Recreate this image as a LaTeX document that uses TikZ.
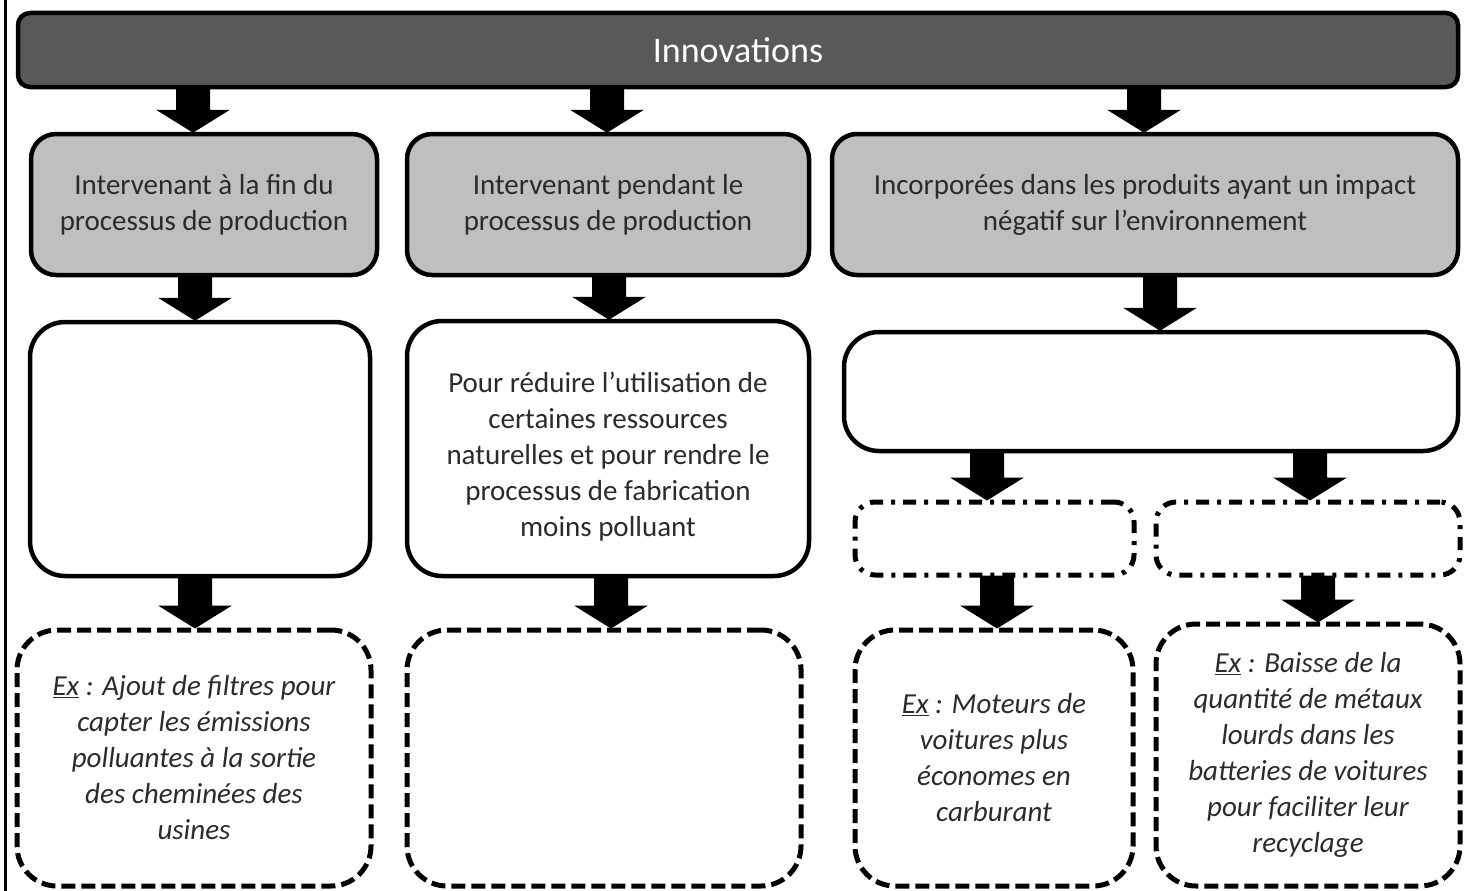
\documentclass[tikz,border=0pt]{standalone}
\usepackage{fontspec}
\setmainfont{Carlito}
\usetikzlibrary{calc}
\definecolor{bardark}{HTML}{595959}
\definecolor{boxgray}{HTML}{BFBFBF}
\definecolor{txt}{HTML}{2B2B2B}
\tikzset{
  base/.style={draw=black, rectangle, inner sep=0pt, align=center, text=txt,
    font=\fontsize{29}{36}\selectfont},
  topbar/.style={base, fill=bardark, line width=4.5pt, rounded corners=12pt,
    text=white, font=\fontsize{36}{40}\selectfont},
  graybox/.style={base, fill=boxgray, line width=4.5pt, rounded corners=25pt},
  whitebox/.style={base, fill=white, line width=4.5pt, rounded corners=35pt},
  dashbox/.style={base, line width=5pt, rounded corners=40pt,
    dash pattern=on 14pt off 6pt, font=\fontsize{29}{36}\selectfont\itshape},
  dotdashbox/.style={base, line width=5pt, rounded corners=20pt,
    dash pattern=on 13pt off 8pt on 4pt off 8pt},
  sz/.style 2 args={minimum width=#1pt, minimum height=#2pt},
  framerule/.style={line width=3.5pt},
}
\newcommand\blockarrow[3]{%
  \fill let \p1=(#2.south), \p2=(#3.north) in
    (#1pt-17pt,\y1+2pt) -- (#1pt+17pt,\y1+2pt) -- (#1pt+17pt,\y2+22pt)
    -- (#1pt+37pt,\y2+22pt) -- (#1pt,\y2-1pt) -- (#1pt-37pt,\y2+22pt)
    -- (#1pt-17pt,\y2+22pt) -- cycle;}
\begin{document}
\begin{tikzpicture}[x=1pt,y=-1pt]
\useasboundingbox (0,0) rectangle (1483,891);
\draw[framerule] (5.5,0) -- (5.5,891);

\node[topbar, sz={1440}{74}] (top) at (738,50) {Innovations};

\node[graybox, sz={346}{141}] (g1) at (204,204.5) {Intervenant à la fin du\\processus de production};
\node[graybox, sz={402}{141}] (g2) at (608,204.5) {Intervenant pendant le\\processus de production};
\node[graybox, sz={626}{141}] (g3) at (1145,204.5) {Incorporées dans les produits ayant un impact\\négatif sur l’environnement};

\node[whitebox, sz={340}{254}] (w1) at (200,449) {};
\node[whitebox, sz={402}{255}] (w2) at (608,448.5) {\rule{0pt}{36pt}Pour réduire l’utilisation de\\certaines ressources\\naturelles et pour rendre le\\processus de fabrication\\moins polluant};
\node[whitebox, sz={614}{119}] (w3) at (1151,391.5) {};

\node[dotdashbox, sz={279}{73}] (dd1) at (994.5,538.5) {};
\node[dotdashbox, sz={304}{73}] (dd2) at (1308,538.5) {};

\node[dashbox, sz={354}{256}] (d1) at (194,758) {\underline{Ex} : Ajout de filtres pour\\capter les émissions\\polluantes à la sortie\\des cheminées des\\usines};
\node[dashbox, sz={394}{256}] (d2) at (604,758) {};
\node[dashbox, sz={278}{256}] (d3) at (994,758) {\underline{Ex} : Moteurs de\\voitures plus\\économes en\\carburant};
\node[dashbox, sz={304}{262}] (d4) at (1308,755) {\underline{Ex} : Baisse de la\\quantité de métaux\\lourds dans les\\batteries de voitures\\pour faciliter leur\\recyclage};

\blockarrow{193}{top}{g1}
\blockarrow{607}{top}{g2}
\blockarrow{1144}{top}{g3}
\blockarrow{195}{g1}{w1}
\blockarrow{609}{g2}{w2}
\blockarrow{1160}{g3}{w3}
\blockarrow{195}{w1}{d1}
\blockarrow{611}{w2}{d2}
\blockarrow{987}{w3}{dd1}
\blockarrow{1310}{w3}{dd2}
\blockarrow{997}{dd1}{d3}
\blockarrow{1318}{dd2}{d4}
\end{tikzpicture}
\end{document}
